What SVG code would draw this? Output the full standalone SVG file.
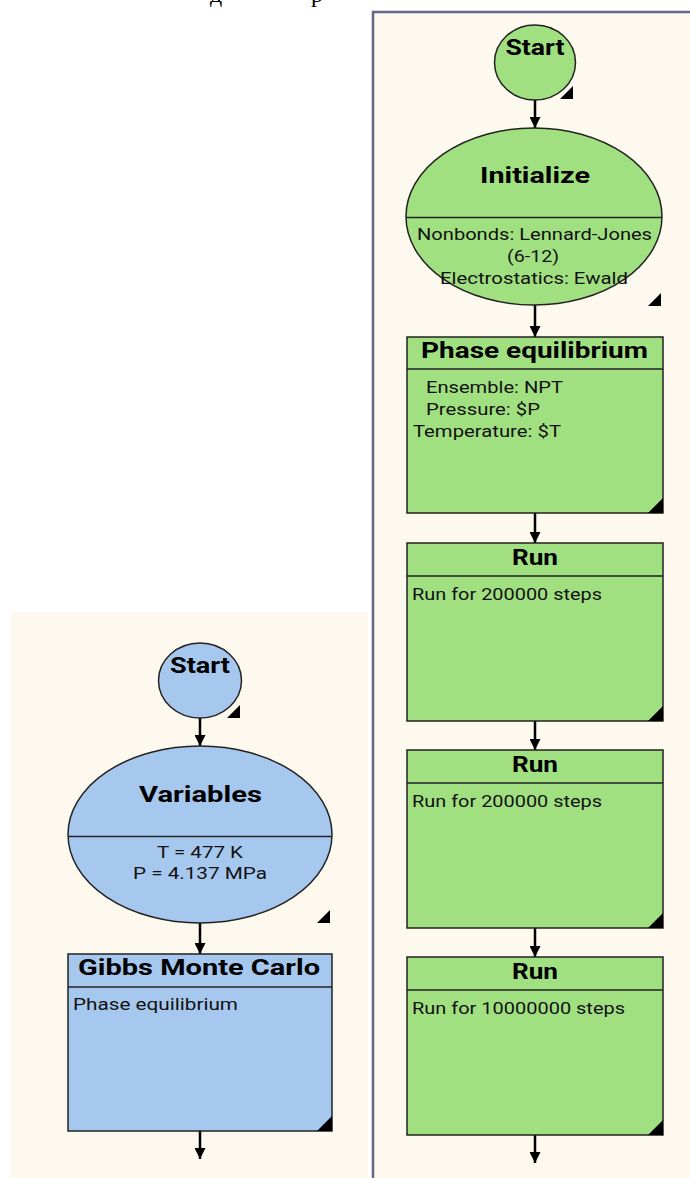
<svg xmlns="http://www.w3.org/2000/svg" width="690" height="1178" viewBox="0 0 690 1178">
  <style>
    .panel { fill: #FEF9EE; }
    .green { fill: #A0E080; stroke: #222; stroke-width: 1.5; }
    .blue { fill: #A6C8EE; stroke: #222; stroke-width: 1.5; }
    .div { stroke: #222; stroke-width: 1.5; }
    .corner { fill: #000; }
    .title { font-family: Roboto, "Liberation Sans", sans-serif; font-weight: bold; font-size: 22px; fill: #000; text-anchor: middle; }
    .body { font-family: Roboto, "Liberation Sans", sans-serif; font-size: 16.5px; fill: #111; }
    .mid { text-anchor: middle; }
    .conn { stroke: #000; stroke-width: 2.5; fill: none; marker-end: url(#arrow); }
    .caption { font-family: "Liberation Serif", serif; font-size: 24px; fill: #000; }
  </style>
  <defs>
    <marker id="arrow" viewBox="0 0 10 10" refX="10" refY="5" markerWidth="4.4" markerHeight="4.4" orient="auto" markerUnits="strokeWidth">
      <path d="M0,0 L10,5 L0,10 z" fill="#000"/>
    </marker>
  </defs>

  <rect width="690" height="1178" fill="#fff"/>

  <!-- caption line running off the top edge -->
  <text class="caption" x="210" y="2">д</text>
  <text class="caption" x="311" y="2">р</text>

  <!-- panels -->
  <rect class="panel" x="10" y="612" width="358" height="566"/>
  <rect class="panel" x="372" y="11" width="318" height="1167"/>
  <path d="M373,1178 V12 H690" fill="none" stroke="#666686" stroke-width="2.5"/>

  <!-- connectors -->
  <g id="connectors">
    <line class="conn" x1="535" y1="100" x2="535" y2="128"/>
    <line class="conn" x1="535" y1="305" x2="535" y2="337"/>
    <line class="conn" x1="535" y1="513" x2="535" y2="543"/>
    <line class="conn" x1="535" y1="721" x2="535" y2="750"/>
    <line class="conn" x1="535" y1="928" x2="535" y2="957"/>
    <line class="conn" x1="535" y1="1135" x2="535" y2="1163"/>
    <line class="conn" x1="200" y1="718" x2="200" y2="746"/>
    <line class="conn" x1="200" y1="923" x2="200" y2="954"/>
    <line class="conn" x1="200" y1="1131" x2="200" y2="1159"/>
  </g>

  <!-- right workflow -->
  <g id="start-right">
    <ellipse class="green" cx="535" cy="62.5" rx="40.5" ry="37.5"/>
    <text class="title" x="535" y="55" textLength="59" lengthAdjust="spacingAndGlyphs">Start</text>
    <path class="corner" d="M573,86 V99 H560 z"/>
  </g>

  <g id="initialize">
    <ellipse class="green" cx="534" cy="216.5" rx="128" ry="88.5"/>
    <line class="div" x1="406" y1="217.5" x2="662" y2="217.5"/>
    <text class="title" x="535" y="183" textLength="110" lengthAdjust="spacingAndGlyphs">Initialize</text>
    <text class="body mid" x="534.5" y="240" textLength="235" lengthAdjust="spacingAndGlyphs">Nonbonds: Lennard-Jones</text>
    <text class="body mid" x="533" y="262" textLength="52" lengthAdjust="spacingAndGlyphs">(6-12)</text>
    <text class="body mid" x="534" y="284" textLength="188" lengthAdjust="spacingAndGlyphs">Electrostatics: Ewald</text>
    <path class="corner" d="M661,293 V306 H648 z"/>
  </g>

  <g id="phase-equilibrium">
    <rect class="green" x="407" y="337" width="256" height="176"/>
    <line class="div" x1="407" y1="369" x2="663" y2="369"/>
    <text class="title" x="534.5" y="358" textLength="227" lengthAdjust="spacingAndGlyphs">Phase equilibrium</text>
    <text class="body" x="426" y="393" textLength="137" lengthAdjust="spacingAndGlyphs">Ensemble: NPT</text>
    <text class="body" x="426" y="415" textLength="114" lengthAdjust="spacingAndGlyphs">Pressure: $P</text>
    <text class="body" x="413" y="437" textLength="148" lengthAdjust="spacingAndGlyphs">Temperature: $T</text>
    <path class="corner" d="M663,498 V513 H648 z"/>
  </g>

  <g id="run-1">
    <rect class="green" x="407" y="543" width="256" height="178"/>
    <line class="div" x1="407" y1="576" x2="663" y2="576"/>
    <text class="title" x="535" y="565" textLength="46" lengthAdjust="spacingAndGlyphs">Run</text>
    <text class="body" x="412" y="600" textLength="190" lengthAdjust="spacingAndGlyphs">Run for 200000 steps</text>
    <path class="corner" d="M663,706 V721 H648 z"/>
  </g>

  <g id="run-2">
    <rect class="green" x="407" y="750" width="256" height="178"/>
    <line class="div" x1="407" y1="783" x2="663" y2="783"/>
    <text class="title" x="535" y="772" textLength="46" lengthAdjust="spacingAndGlyphs">Run</text>
    <text class="body" x="412" y="807" textLength="190" lengthAdjust="spacingAndGlyphs">Run for 200000 steps</text>
    <path class="corner" d="M663,913 V928 H648 z"/>
  </g>

  <g id="run-3">
    <rect class="green" x="407" y="957" width="256" height="178"/>
    <line class="div" x1="407" y1="990" x2="663" y2="990"/>
    <text class="title" x="535" y="979" textLength="46" lengthAdjust="spacingAndGlyphs">Run</text>
    <text class="body" x="412" y="1014" textLength="213" lengthAdjust="spacingAndGlyphs">Run for 10000000 steps</text>
    <path class="corner" d="M663,1120 V1135 H648 z"/>
  </g>

  <!-- left workflow -->
  <g id="start-left">
    <ellipse class="blue" cx="200" cy="680.5" rx="41.5" ry="37.5"/>
    <text class="title" x="200" y="673" textLength="60" lengthAdjust="spacingAndGlyphs">Start</text>
    <path class="corner" d="M240,705 V718 H227 z"/>
  </g>

  <g id="variables">
    <ellipse class="blue" cx="200" cy="834.5" rx="132" ry="88.5"/>
    <line class="div" x1="68" y1="836.5" x2="332" y2="836.5"/>
    <text class="title" x="200.5" y="802" textLength="123" lengthAdjust="spacingAndGlyphs">Variables</text>
    <text class="body mid" x="200" y="858" textLength="86" lengthAdjust="spacingAndGlyphs">T = 477 K</text>
    <text class="body mid" x="200" y="879" textLength="134" lengthAdjust="spacingAndGlyphs">P = 4.137 MPa</text>
    <path class="corner" d="M330,910 V923 H317 z"/>
  </g>

  <g id="gibbs-monte-carlo">
    <rect class="blue" x="68" y="954" width="264" height="177"/>
    <line class="div" x1="68" y1="987" x2="332" y2="987"/>
    <text class="title" x="199" y="975" textLength="242" lengthAdjust="spacingAndGlyphs">Gibbs Monte Carlo</text>
    <text class="body" x="73" y="1010" textLength="165" lengthAdjust="spacingAndGlyphs">Phase equilibrium</text>
    <path class="corner" d="M332,1116 V1131 H317 z"/>
  </g>
</svg>
